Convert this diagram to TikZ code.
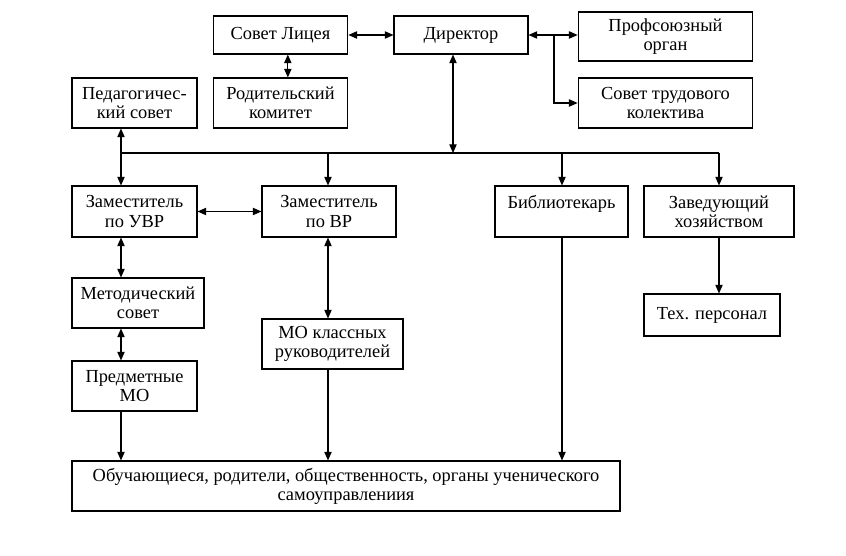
\documentclass[tikz,border=0pt]{standalone}
\usepackage{fontspec}
\setmainfont{Liberation Serif}
\usepackage{tikz}
\usetikzlibrary{arrows.meta}
\tikzstyle{box} = [rectangle, draw=black, line width=0.8pt, align=center, inner sep=2pt, font=\fontsize{13.8}{14.4}\selectfont]
\tikzstyle{arrow} = [line width=0.8pt,-{Triangle[length=6.5pt,width=5.5pt]}]
\tikzstyle{twoway} = [line width=0.8pt,{Triangle[length=6.5pt,width=5.5pt]}-{Triangle[length=6.5pt,width=5.5pt]}]
\tikzstyle{line} = [line width=0.8pt]

\begin{document}
\begin{tikzpicture}[x=0.75pt,y=-0.75pt]
\useasboundingbox (0,0) rectangle (846,556);

\node (sovet) [box, minimum width=101pt, minimum height=28.5pt] at (280.5,35) {Совет Лицея};
\node (director) [box, minimum width=100.5pt, minimum height=28.5pt] at (461,35) {Директор};
\node (prof) [box, minimum width=131pt, minimum height=36.75pt] at (665.5,36.5) {Профсоюзный\\орган};
\node (trud) [box, minimum width=131pt, minimum height=37.5pt] at (665.5,103) {Совет трудового\\колектива};
\node (rodit) [box, minimum width=101pt, minimum height=37.5pt] at (280.5,103) {Родительский\\комитет};
\node (pedsovet) [box, minimum width=93.75pt, minimum height=37.5pt] at (134.5,103) {Педагогичес-\\кий совет};

\node (zamuvr) [box, minimum width=93.75pt, minimum height=38.25pt] at (134.5,211.5) {Заместитель\\по УВР};
\node (zamvr) [box, minimum width=100.5pt, minimum height=38.25pt] at (329,211.5) {Заместитель\\по ВР};
\node (bibl) [box, minimum width=99.75pt, minimum height=38.25pt] at (561.5,211.5) {Библиотекарь\\\mbox{}};
\node (zavhoz) [box, minimum width=112.5pt, minimum height=38.25pt] at (719,211.5) {Заведующий\\хозяйством};

\node (metod) [box, minimum width=99pt, minimum height=37.5pt] at (138,303) {Методический\\совет};
\node (mokl) [box, minimum width=105.75pt, minimum height=37.5pt] at (332.5,344) {МО классных\\руководителей};
\node (tech) [box, minimum width=102pt, minimum height=31.5pt] at (712,315) {Тех. персонал};
\node (predm) [box, minimum width=93.75pt, minimum height=37.5pt] at (134.5,386) {Предметные\\МО};
\node (pupils) [box, minimum width=411pt, minimum height=37.5pt] at (346,486) {Обучающиеся, родители, общественность, органы ученического\\самоуправлениия};

% helper points
\coordinate (colA) at (121,153);
\coordinate (colB) at (328,153);
\coordinate (colC) at (562,153);
\coordinate (colD) at (719,153);
\coordinate (dirdown) at (453,153);
\coordinate (branch) at (554,35);

\draw [twoway] (sovet.east) -- (director.west);
\draw [twoway] ([xshift=5.5pt]sovet.south) -- ([xshift=5.5pt]sovet.south |- rodit.north);
\draw [twoway] (director.east) -- (director.east -| prof.west);
\draw [arrow] (branch) |- (trud.west);
\draw [twoway] (director.south -| dirdown) -- (dirdown);

\draw [line] (colA) -- (colD);
\draw [arrow] (colA) -- (pedsovet.south -| colA);
\draw [arrow] (colA) -- (zamuvr.north -| colA);
\draw [arrow] (colB) -- (zamvr.north -| colB);
\draw [arrow] (colC) -- (bibl.north -| colC);
\draw [arrow] (colD) -- (zavhoz.north -| colD);

\draw [twoway] (zamuvr.east) -- (zamvr.west);
\draw [twoway] (zamuvr.south -| colA) -- (metod.north -| colA);
\draw [twoway] (metod.south -| colA) -- (predm.north -| colA);
\draw [twoway] (zamvr.south -| colB) -- (mokl.north -| colB);
\draw [arrow] (zavhoz.south) -- (zavhoz.south |- tech.north);

\draw [arrow] (predm.south -| colA) -- (pupils.north -| colA);
\draw [arrow] (mokl.south -| colB) -- (pupils.north -| colB);
\draw [arrow] (bibl.south -| colC) -- (pupils.north -| colC);
\end{tikzpicture}
\end{document}
